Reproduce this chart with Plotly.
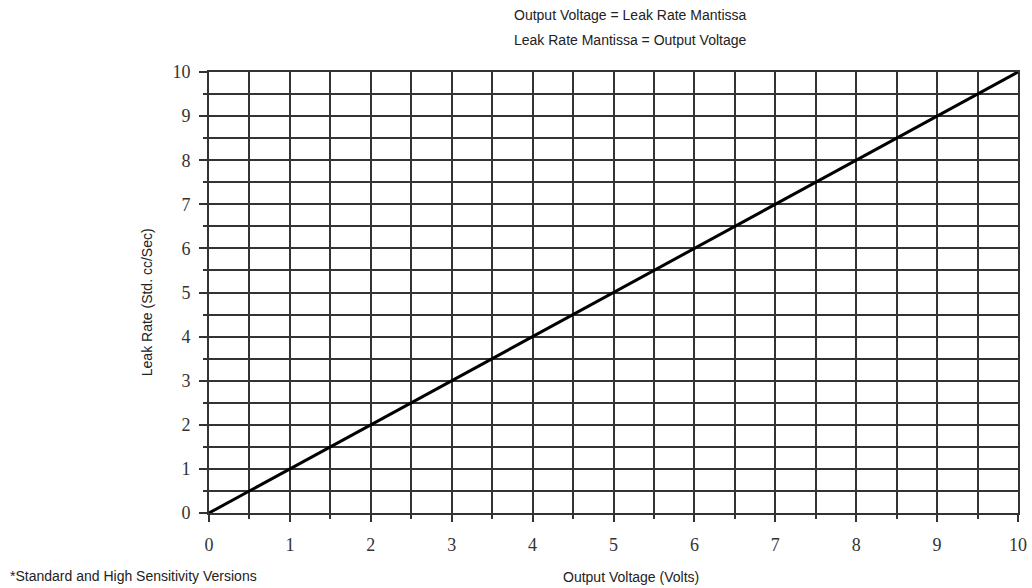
import plotly.graph_objects as go

# Leak rate mantissa follows the output voltage 1:1
volts = [0, 10]
leak_rate = [0, 10]

tick_vals = [0, 1, 2, 3, 4, 5, 6, 7, 8, 9, 10]
tick_text = ["0", "1", "2", "3", "4", "5", "6", "7", "8", "9", "10"]

titulo_1 = "Output Voltage = Leak Rate Mantissa"
titulo_2 = "Leak Rate Mantissa = Output Voltage"
rodape = "*Standard and High Sensitivity Versions"
x_titulo = "Output Voltage (Volts)"
y_titulo = "Leak Rate (Std. cc/Sec)"

GRADE = "#333333"
TXT = "Liberation Sans, Arial, sans-serif"

fig = go.Figure(go.Scatter(x=volts, y=leak_rate, mode="lines",
                           line=dict(color="black", width=3), hoverinfo="skip"))


def eixo(ticklen):
    return dict(range=[0, 10], tickvals=tick_vals, ticktext=tick_text, automargin=False,
                ticks="outside", ticklen=ticklen, tickwidth=1.5, tickcolor=GRADE,
                showgrid=True, gridcolor=GRADE, gridwidth=1.6,
                zeroline=False, showline=True, linecolor=GRADE, linewidth=1.6, mirror=True,
                tickfont=dict(family="Liberation Serif, serif", size=18, color="#333"),
                minor=dict(dtick=0.5, tick0=0, ticks="outside", ticklen=4, tickwidth=1.5,
                           tickcolor=GRADE, showgrid=True, gridcolor=GRADE, gridwidth=1.6))


fig.update_layout(
    width=1032, height=588,
    margin=dict(l=209, r=14, t=72, b=75),
    paper_bgcolor="white", plot_bgcolor="white",
    showlegend=False,
    xaxis=eixo(7), yaxis=eixo(8),
)
fig.update_yaxes(ticklabelstandoff=5)
fig.update_xaxes(ticklabelstandoff=8)

fonte = dict(family=TXT, size=14, color="#222")
notas = [
    dict(x=0.5216, y=1.129, text=titulo_1),
    dict(x=0.5216, y=1.0726, text=titulo_2),
    dict(x=0.5216, y=-0.145, text=x_titulo),
]
for n in notas:
    fig.add_annotation(xref="paper", yref="paper", xanchor="center", yanchor="middle",
                       showarrow=False, font=fonte, **n)
fig.add_annotation(xref="paper", yref="paper", x=-0.2485, y=-0.143, text=rodape,
                   xanchor="left", yanchor="middle", showarrow=False, font=fonte)
fig.add_annotation(xref="paper", yref="paper", x=-0.0766, y=0.478, text=y_titulo,
                   textangle=-90, xanchor="center", yanchor="middle", showarrow=False, font=fonte)

# sem margem no body e sem rolagem: a figura ocupa a janela exata
js = ("document.body.style.margin='0';"
      "document.body.style.overflow='hidden';"
      "document.documentElement.style.overflow='hidden';")
fig.write_html("out.html", post_script=js, config={"displayModeBar": False})
